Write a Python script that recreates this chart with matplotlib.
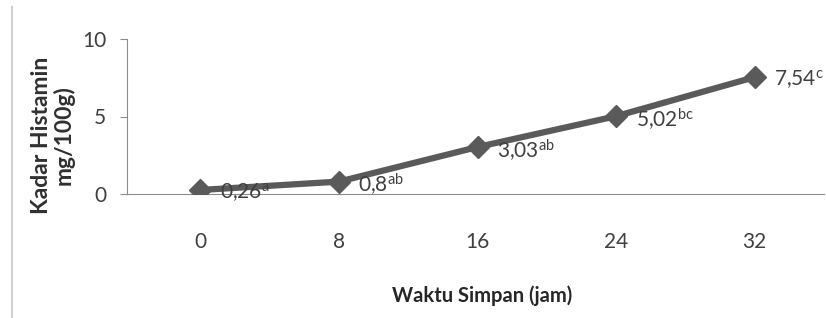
import matplotlib.pyplot as plt
from matplotlib.lines import Line2D

plt.rcParams['font.family'] = ['Lato', 'DejaVu Sans']
plt.rcParams['mathtext.fontset'] = 'custom'
plt.rcParams['mathtext.rm'] = 'Lato'

# data
waktu = ['0', '8', '16', '24', '32']
histamin = [0.26, 0.8, 3.03, 5.02, 7.54]
label_angka = ['0,26', '0,8', '3,03', '5,02', '7,54']
label_huruf = ['a', 'ab', 'ab', 'bc', 'c']

fig = plt.figure(figsize=(8.26, 3.18), dpi=100)
ax = fig.add_axes([127/826, 1 - 194/318, (824 - 127)/826, 155/318])

x = list(range(len(waktu)))
ax.plot(x, histamin, color='#5a5a5a', lw=4.5, marker='D', ms=11,
        markerfacecolor='#5a5a5a', markeredgecolor='#5a5a5a', zorder=3)

for i in x:
    ax.annotate(label_angka[i] + r'$\mathregular{^{' + label_huruf[i] + '}}$',
                (i, histamin[i]), xytext=(14, -2), textcoords='offset points',
                ha='left', va='center', fontsize=15, color='#404040')

ax.set_xlim(-0.5 - 0.03, 4.5)
ax.set_ylim(0, 10)
ax.set_yticks([0, 5, 10])
ax.set_xticks(x)
ax.set_xticklabels(waktu)

for s in ['top', 'right']:
    ax.spines[s].set_visible(False)
ax.spines['left'].set_color('#8c8c8c')
ax.spines['bottom'].set_color('#8c8c8c')
ax.tick_params(axis='y', length=5, color='#8c8c8c', labelsize=15,
               labelcolor='#404040', pad=10)
ax.tick_params(axis='x', length=0, labelsize=15, labelcolor='#404040', pad=27)

fig.text(53/826, 1 - 135/318, 'Kadar Histamin\nmg/100g)', rotation=90,
         ha='center', va='center', fontsize=16.5, fontweight='bold',
         color='#303030', linespacing=1.05)
fig.text(482/826, 1 - 296/318, 'Waktu Simpan (jam)', ha='center',
         va='center', fontsize=14.5, fontweight='bold', color='#262626')

# tepi kiri area grafik
fig.add_artist(Line2D([12/826, 12/826], [0, 1 - 7/318],
                      transform=fig.transFigure, color='#d0d0d0', lw=1.5))

plt.savefig('out.png', dpi=100)
